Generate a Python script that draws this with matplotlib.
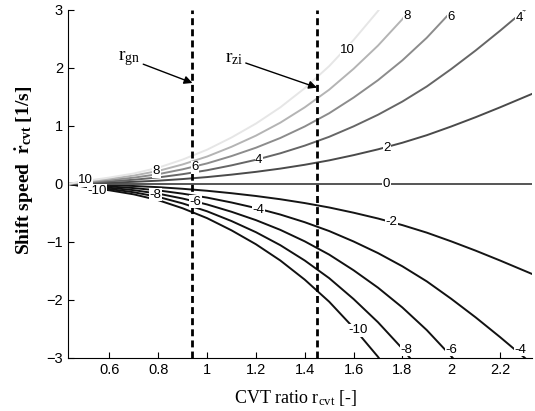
import matplotlib
matplotlib.use("Agg")
import matplotlib.pyplot as plt

# CVT ratio samples and the shift-speed profile per unit of the contour level
ratio = [0.43, 0.50, 0.60, 0.70, 0.80, 0.90, 1.00, 1.10, 1.20, 1.30, 1.40,
         1.50, 1.60, 1.70, 1.80, 1.90, 2.00, 2.10, 2.20, 2.33]
speed_per_level = [0.0, 0.005, 0.011, 0.018, 0.028, 0.042, 0.059, 0.080, 0.104,
                   0.132, 0.165, 0.203, 0.248, 0.298, 0.355, 0.420, 0.495,
                   0.575, 0.660, 0.775]

levels = [-10, -8, -6, -4, -2, 0, 2, 4, 6, 8, 10]
level_colors = ["#111111", "#111111", "#111111", "#111111", "#151515", "#555555",
                "#4a4a4a", "#666666", "#8c8c8c", "#b4b4b4", "#e6e6e6"]

r_gn = 0.94
r_zi = 1.45

# inline label positions (level, x, y)
label_pos = [
    (10, 0.502, 0.06), (-10, 0.55, -0.115), (8, 0.792, 0.22), (-8, 0.788, -0.19),
    (6, 0.951, 0.29), (-6, 0.951, -0.305), (4, 1.212, 0.41), (-4, 1.21, -0.45),
    (2, 1.737, 0.615), (0, 1.735, 0.0), (-2, 1.754, -0.65),
    (10, 1.575, 2.31), (8, 1.82, 2.9), (6, 2.0, 2.88), (4, 2.28, 2.86),
    (-10, 1.617, -2.52), (-8, 1.816, -2.86), (-6, 1.999, -2.86), (-4, 2.284, -2.86),
]

plt.rcParams["mathtext.fontset"] = "custom"
plt.rcParams["mathtext.rm"] = "Liberation Serif"
plt.rcParams["mathtext.it"] = "Liberation Serif:italic"
plt.rcParams["mathtext.bf"] = "Liberation Serif:bold"

fig = plt.figure(figsize=(5.35, 4.11), dpi=100)
ax = fig.add_axes([0.127, 0.129, 0.867, 0.847])

for lev, col in zip(levels, level_colors):
    y = [lev * s for s in speed_per_level]
    ax.plot(ratio, y, color=col, lw=1.4, zorder=2, clip_on=True)

for x0 in (r_gn, r_zi):
    ax.axvline(x0, color="black", lw=2.0, ls=(0, (2.5, 1.5)), zorder=3)

for lev, x, y in label_pos:
    ax.text(x, y, f"{lev}", ha="center", va="center", fontsize=9.5,
            family="Liberation Sans", color="black", zorder=4,
            bbox=dict(facecolor="white", edgecolor="none", pad=0.4))

ax.annotate(r"r$_{\mathrm{gn}}$", xy=(r_gn, 1.74), xytext=(0.727, 2.155),
            fontsize=14, family="Liberation Serif", ha="right", va="center",
            arrowprops=dict(arrowstyle="-|>", color="black", lw=1.0,
                            mutation_scale=12, shrinkA=0, shrinkB=0))
ax.annotate(r"r$_{\mathrm{zi}}$", xy=(r_zi, 1.66), xytext=(1.147, 2.155),
            fontsize=14, family="Liberation Serif", ha="right", va="center",
            arrowprops=dict(arrowstyle="-|>", color="black", lw=1.0,
                            mutation_scale=12, shrinkA=0, shrinkB=0))

ax.set_xlim(0.43, 2.33)
ax.set_ylim(-3, 3)
ax.set_xticks([0.6, 0.8, 1.0, 1.2, 1.4, 1.6, 1.8, 2.0, 2.2])
ax.set_xticklabels(["0.6", "0.8", "1", "1.2", "1.4", "1.6", "1.8", "2", "2.2"])
ax.set_yticks([-3, -2, -1, 0, 1, 2, 3])
ax.tick_params(direction="in", length=4, labelsize=10.5, width=0.8)
for lab in ax.get_xticklabels() + ax.get_yticklabels():
    lab.set_family("Liberation Sans")
ax.spines["top"].set_visible(False)
ax.spines["right"].set_visible(False)

ax.set_xlabel(r"CVT ratio r$_{\mathrm{cvt}}$ [-]", family="Liberation Serif",
              fontsize=13)
ax.xaxis.set_label_coords(0.49, -0.085)
ax.set_ylabel(r"Shift speed  $\mathbf{\dot{r}}_{\mathbf{cvt}}$ [1/s]",
              family="Liberation Serif", fontsize=14, fontweight="bold")
ax.yaxis.set_label_coords(-0.068, 0.54)

fig.savefig("out.png", dpi=100)
